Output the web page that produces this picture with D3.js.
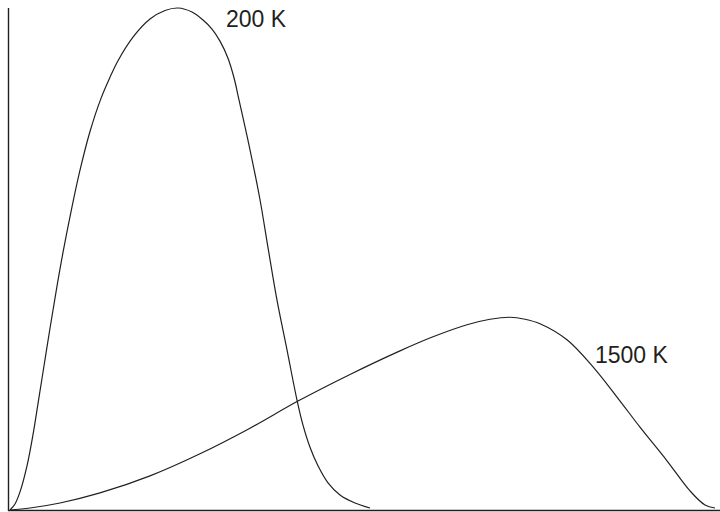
<!DOCTYPE html>
<html>
<head>
<meta charset="utf-8">
<script src="https://cdn.jsdelivr.net/npm/d3@7"></script>
<style>
  body { margin: 0; background: #fff; }
  svg { display: block; }
  .label { font-family: "Liberation Sans", Arial, sans-serif; font-size: 23px; fill: #231f20; }
</style>
</head>
<body>
<svg id="chart" width="720" height="512"></svg>
<script>
// speed (m/s) and relative probability
const speed200 = [0, 25, 50, 85, 115, 140, 160, 200, 235, 265, 310, 350, 400, 455, 500, 540, 615, 700, 775, 840,
    910, 965, 1010, 1050, 1090, 1120, 1145, 1195, 1250, 1292, 1335, 1385, 1435, 1465, 1500, 1540, 1590, 1650, 1725, 1800];
const prob200 = [0, 0.012, 0.036, 0.088, 0.150, 0.212, 0.262, 0.362, 0.446, 0.513, 0.604, 0.677, 0.754, 0.820, 0.862, 0.895, 0.942, 0.978, 0.995, 1.000,
    0.992, 0.976, 0.958, 0.934, 0.900, 0.861, 0.817, 0.727, 0.618, 0.518, 0.418, 0.319, 0.219, 0.169, 0.125, 0.088, 0.054, 0.030, 0.014, 0.004];

const speed1500 = [0, 100, 250, 450, 700, 950, 1200, 1440, 1700, 1950, 2115, 2285, 2400, 2500, 2575, 2650,
    2785, 2915, 3035, 3150, 3285, 3400, 3475, 3525];
const prob1500 = [0, 0.004, 0.014, 0.034, 0.068, 0.112, 0.163, 0.217, 0.270, 0.317, 0.345, 0.369, 0.380, 0.384, 0.380, 0.371,
    0.339, 0.285, 0.225, 0.165, 0.098, 0.038, 0.010, 0.004];

const seriesLabels = ["200 K", "1500 K"];

const svg = d3.select("#chart");
const width = 720, height = 512;

const x = d3.scaleLinear().domain([0, 3550]).range([10, 720]);
const y = d3.scaleLinear().domain([0, 1]).range([510, 8]);

const series = [
    {label: seriesLabels[0], pts: d3.zip(speed200, prob200), at: [1080, 0.962]},
    {label: seriesLabels[1], pts: d3.zip(speed1500, prob1500), at: [2925, 0.293]}
];

const line = d3.line()
    .x(d => x(d[0]))
    .y(d => y(d[1]))
    .curve(d3.curveCatmullRom.alpha(0.5));

// axes: plain lines, no ticks
svg.append("line")
    .attr("x1", 8.5).attr("x2", 8.5)
    .attr("y1", 8).attr("y2", 511)
    .attr("stroke", "#231f20").attr("stroke-width", 1.4);
svg.append("line")
    .attr("x1", 8).attr("x2", width)
    .attr("y1", 510.5).attr("y2", 510.5)
    .attr("stroke", "#231f20").attr("stroke-width", 1.4);

svg.append("g")
    .selectAll("path")
    .data(series)
    .enter().append("path")
    .attr("d", d => line(d.pts))
    .attr("fill", "none")
    .attr("stroke", "#231f20")
    .attr("stroke-width", 1.2);

svg.append("g")
    .selectAll("text")
    .data(series)
    .enter().append("text")
    .attr("class", "label")
    .attr("x", d => x(d.at[0]))
    .attr("y", d => y(d.at[1]))
    .text(d => d.label);
</script>
</body>
</html>
